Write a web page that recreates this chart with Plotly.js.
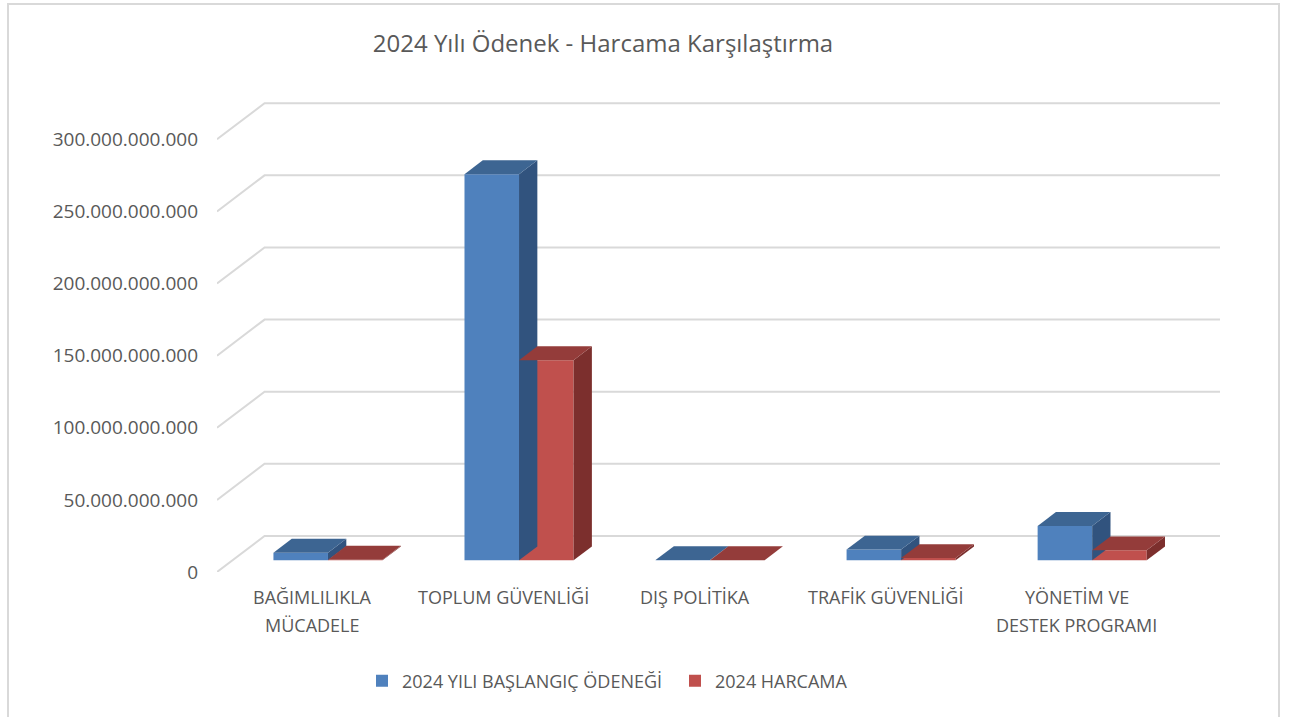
<!DOCTYPE html>
<html>
<head>
<meta charset="utf-8">
<script src="https://cdn.plot.ly/plotly-3.0.1.min.js"></script>
<style>
  html, body { margin: 0; padding: 0; background: #ffffff; }
  #wrap { position: relative; width: 1290px; height: 717px; overflow: hidden; }
  #chart { position: absolute; left: 0; top: 0; width: 1290px; height: 717px; }
  #frame { position: absolute; left: 7px; top: 3px; width: 1269px; height: 740px;
           border: 2px solid #d9d9d9; pointer-events: none; }
</style>
</head>
<body>
<div id="wrap">
  <div id="chart"></div>
  <div id="frame"></div>
</div>
<script>
// ---- data ----
const categories = ['BAĞIMLILIKLA<br>MÜCADELE', 'TOPLUM GÜVENLİĞİ', 'DIŞ POLİTİKA', 'TRAFİK GÜVENLİĞİ', 'YÖNETİM VE<br>DESTEK PROGRAMI'];
const seriesNames = ['2024 YILI BAŞLANGIÇ ÖDENEĞİ', '2024 HARCAMA'];
const odenek  = [5.3e9, 267.7e9, 0.15e9, 7.4e9, 23.8e9];
const harcama = [0.4e9, 138.7e9, 0.1e9, 1.5e9, 6.9e9];
const yTickVals = [0, 50e9, 100e9, 150e9, 200e9, 250e9, 300e9];

// ---- style / geometry ----
const TXT = '#595959';
const FONT = '"Open Sans", "Segoe UI", sans-serif';
const GRID = '#d9d9d9';
const DEPTH_X = 0.249;      // x shift of the back wall (category units)
const DEPTH_Y = 25e9;       // y shift of the back wall (value units)
const BAR_D0 = 0.325, BAR_D1 = 0.71;   // bar depth span (fraction of floor depth)
const BAR_W = 0.2855;
const colors = [
  {front: '#4f81bd', top: '#3d6592', side: '#31537e'},
  {front: '#c0504d', top: '#943c3a', side: '#7c2f2d'}
];
const XMIN = -0.5, XMAX = 4.75, YMAX = 330e9;

const ox0 = BAR_D0 * DEPTH_X, oy0 = BAR_D0 * DEPTH_Y;
const ddx = (BAR_D1 - BAR_D0) * DEPTH_X, ddy = (BAR_D1 - BAR_D0) * DEPTH_Y;

const traces = [];
[odenek, harcama].forEach((vals, s) => {
  const c = colors[s];
  const xs = categories.map((_, i) => s === 0 ? i + ox0 - BAR_W / 2 : i + ox0 + BAR_W / 2);
  // side faces
  vals.forEach((v, i) => {
    const xr = xs[i] + BAR_W / 2;
    traces.push({
      type: 'scatter', mode: 'lines', fill: 'toself', fillcolor: c.side,
      line: {width: 0}, hoverinfo: 'skip', showlegend: false,
      x: [xr, xr, xr + ddx, xr + ddx, xr],
      y: [oy0, oy0 + v, oy0 + v + ddy, oy0 + ddy, oy0]
    });
  });
  // top faces
  vals.forEach((v, i) => {
    const xl = xs[i] - BAR_W / 2, xr = xs[i] + BAR_W / 2;
    traces.push({
      type: 'scatter', mode: 'lines', fill: 'toself', fillcolor: c.top,
      line: {width: 0}, hoverinfo: 'skip', showlegend: false,
      x: [xl, xr, xr + ddx, xl + ddx, xl],
      y: [oy0 + v, oy0 + v, oy0 + v + ddy, oy0 + v + ddy, oy0 + v]
    });
  });
  // front faces
  traces.push({
    type: 'bar', name: seriesNames[s], x: xs, y: vals,
    base: vals.map(() => oy0), width: BAR_W,
    marker: {color: c.front, line: {width: 0}},
    hovertemplate: '%{y:,.0f}<extra>' + seriesNames[s] + '</extra>'
  });
});

// gridlines on side + back wall
const shapes = yTickVals.map(v => ({
  type: 'path', layer: 'below', xref: 'x', yref: 'y',
  path: `M ${XMIN},${v} L ${XMIN + DEPTH_X},${v + DEPTH_Y} L ${XMAX},${v + DEPTH_Y}`,
  line: {color: GRID, width: 2}
}));

// category labels (one annotation per line)
const PLOT_B = 572, PLOT_H = 476;
const py = p => (PLOT_B - p) / PLOT_H;
const annotations = [];
categories.forEach((cat, i) => {
  cat.split('<br>').forEach((line, k) => {
    annotations.push({
      xref: 'x', yref: 'paper', x: i, y: py(597 + 28.3 * k),
      xanchor: 'center', yanchor: 'middle', showarrow: false,
      text: line, font: {family: FONT, size: 18, color: TXT}
    });
  });
});

const layout = {
  width: 1290, height: 717, autosize: false,
  paper_bgcolor: 'rgba(0,0,0,0)', plot_bgcolor: 'rgba(0,0,0,0)',
  margin: {l: 217, r: 70, t: 96, b: 145, pad: 0},
  separators: ',.',
  font: {family: FONT, size: 18, color: TXT},
  title: {
    text: '2024 Yılı Ödenek - Harcama Karşılaştırma',
    font: {family: FONT, size: 24, color: TXT},
    xref: 'container', x: 603 / 1290, xanchor: 'center',
    yref: 'container', y: 1 - 44 / 717, yanchor: 'middle'
  },
  barmode: 'overlay',
  xaxis: {
    range: [XMIN, XMAX], showgrid: false, zeroline: false, showline: false,
    showticklabels: false, ticks: '', fixedrange: true
  },
  yaxis: {
    range: [0, YMAX], tickvals: yTickVals, tickformat: ',.0f',
    showgrid: false, zeroline: false, showline: false, ticks: '',
    ticklabelstandoff: 18,
    tickfont: {family: FONT, size: 19, color: TXT}, fixedrange: true
  },
  legend: {
    orientation: 'h', xref: 'paper', yref: 'paper',
    x: (675 - 217) / 1003, xanchor: 'center',
    y: py(681), yanchor: 'middle',
    font: {family: FONT, size: 18, color: TXT},
    itemwidth: 30, entrywidth: 268, traceorder: 'normal'
  },
  shapes: shapes,
  annotations: annotations,
  showlegend: true
};

Plotly.newPlot('chart', traces, layout, {displayModeBar: false, staticPlot: true});
</script>
</body>
</html>
